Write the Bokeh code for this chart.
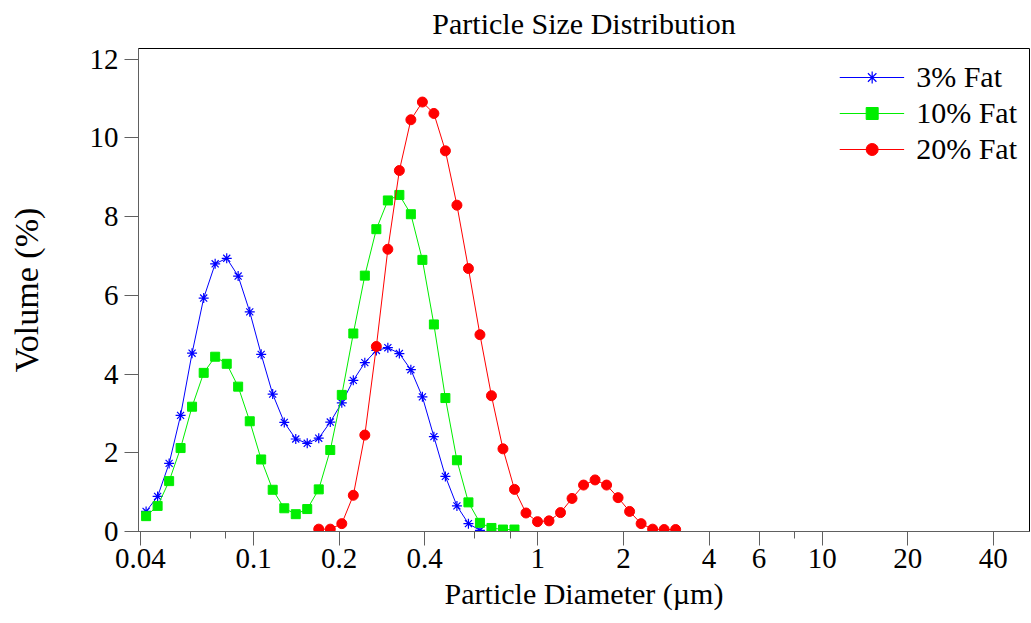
from bokeh.plotting import figure
from bokeh.models import Range1d, FixedTicker, PrintfTickFormatter, Legend, LegendItem
from bokeh.embed import file_html
from bokeh.resources import INLINE

# Channel-centre particle diameters (µm)
diameters = [0.0419, 0.0460, 0.0505, 0.0554, 0.0608, 0.0668, 0.0733, 0.0805, 0.0883, 0.0970,
             0.1064, 0.1168, 0.1283, 0.1408, 0.1545, 0.1696, 0.1862, 0.2044, 0.2244, 0.2463,
             0.2704, 0.2968, 0.3258, 0.3576, 0.3926, 0.4309, 0.4730, 0.5193, 0.5700, 0.6257,
             0.6868, 0.7539, 0.8276, 0.9085, 0.9972, 1.0946, 1.2016, 1.3190, 1.4479, 1.5894,
             1.7447, 1.9152, 2.1023, 2.3077, 2.5332, 2.7807, 3.0524]

# Volume (%) per series
fat3_diam = diameters[0:30]
fat3_vol = [0.51, 0.89, 1.73, 2.95, 4.53, 5.93, 6.80, 6.94, 6.49, 5.58,
            4.50, 3.49, 2.77, 2.35, 2.24, 2.37, 2.78, 3.27, 3.84, 4.29,
            4.60, 4.67, 4.52, 4.11, 3.42, 2.41, 1.40, 0.65, 0.20, 0.03]

fat10_diam = diameters[0:33]
fat10_vol = [0.39, 0.65, 1.28, 2.12, 3.17, 4.03, 4.44, 4.26, 3.68, 2.80,
             1.83, 1.06, 0.59, 0.44, 0.57, 1.07, 2.07, 3.47, 5.03, 6.50,
             7.68, 8.41, 8.55, 8.06, 6.90, 5.26, 3.39, 1.81, 0.74, 0.22,
             0.09, 0.05, 0.05]

fat20_diam = diameters[15:47]
fat20_vol = [0.06, 0.06, 0.20, 0.92, 2.45, 4.70, 7.17, 9.17, 10.46, 10.91,
             10.62, 9.67, 8.29, 6.68, 5.00, 3.45, 2.10, 1.07, 0.47, 0.25,
             0.27, 0.48, 0.84, 1.18, 1.31, 1.18, 0.86, 0.51, 0.20, 0.06,
             0.05, 0.05]

series_labels = ["3% Fat", "10% Fat", "20% Fat"]

x_major_ticks = [0.04, 0.1, 0.2, 0.4, 1, 2, 4, 6, 10, 20, 40]
x_minor_ticks = [0.06, 0.08, 0.6, 0.8, 8]
y_ticks = [0, 2, 4, 6, 8, 10, 12]

FONT = "Liberation Serif"
BLUE = "#0000ff"
GREEN = "#00ee00"
RED = "#ff0000"

p = figure(width=1031, height=623, x_axis_type="log",
           x_range=Range1d(0.0394, 53.6), y_range=Range1d(0, 12.27),
           output_backend="svg", toolbar_location=None,
           min_border_left=138, min_border_right=2, min_border_top=48, min_border_bottom=92,
           title="Particle Size Distribution")

p.grid.visible = False
p.outline_line_color = "black"
p.outline_line_width = 1
p.background_fill_color = "white"
p.border_fill_color = "white"

p.title.align = "center"
p.title.vertical_align = "top"
p.title.text_font = FONT
p.title.text_font_size = "30px"
p.title.text_font_style = "normal"
p.title.text_color = "black"
p.title.standoff = 13

for ax in (p.xaxis[0], p.yaxis[0]):
    ax.axis_line_color = "#606060"
    ax.major_tick_line_color = "#606060"
    ax.minor_tick_line_color = "#606060"
    ax.major_tick_in = 0
    ax.major_tick_out = 14
    ax.minor_tick_in = 0
    ax.minor_tick_out = 7
    ax.major_label_text_font = FONT
    ax.major_label_text_font_size = "29px"
    ax.major_label_text_color = "black"
    ax.axis_label_text_font = FONT
    ax.axis_label_text_font_style = "normal"
    ax.axis_label_text_color = "black"

p.xaxis.ticker = FixedTicker(ticks=x_major_ticks, minor_ticks=x_minor_ticks)
p.xaxis.formatter = PrintfTickFormatter(format="%g")
p.xaxis.axis_label = "Particle Diameter (µm)"
p.xaxis.axis_label_text_font_size = "30px"
p.xaxis.major_label_standoff = 3
p.xaxis.axis_label_standoff = 6

p.yaxis.ticker = FixedTicker(ticks=y_ticks)
p.yaxis.minor_tick_line_color = None
p.yaxis.axis_label = "Volume (%)"
p.yaxis.axis_label_text_font_size = "34px"
p.yaxis.major_label_standoff = 6
p.yaxis.axis_label_standoff = 42

l1 = p.line(fat3_diam, fat3_vol, line_color=BLUE, line_width=1)
m1 = p.scatter(fat3_diam, fat3_vol, marker="asterisk", size=10, line_color=BLUE, line_width=1.2)
l2 = p.line(fat10_diam, fat10_vol, line_color=GREEN, line_width=1)
m2 = p.scatter(fat10_diam, fat10_vol, marker="square", size=9, line_color=GREEN, fill_color=GREEN)
l3 = p.line(fat20_diam, fat20_vol, line_color=RED, line_width=1)
m3 = p.scatter(fat20_diam, fat20_vol, marker="circle", size=10, line_color=RED, fill_color=RED)

legend = Legend(items=[LegendItem(label=series_labels[0], renderers=[l1, m1]),
                       LegendItem(label=series_labels[1], renderers=[l2, m2]),
                       LegendItem(label=series_labels[2], renderers=[l3, m3])],
                location="top_right")
legend.label_text_font = FONT
legend.label_text_font_size = "30px"
legend.label_text_color = "black"
legend.glyph_width = 65
legend.glyph_height = 30
legend.label_height = 30
legend.label_standoff = 12
legend.spacing = 2
legend.padding = 5
legend.margin = 12
legend.border_line_color = None
legend.background_fill_alpha = 0
p.add_layout(legend)

open("out.html", "w").write(file_html(p, INLINE))
